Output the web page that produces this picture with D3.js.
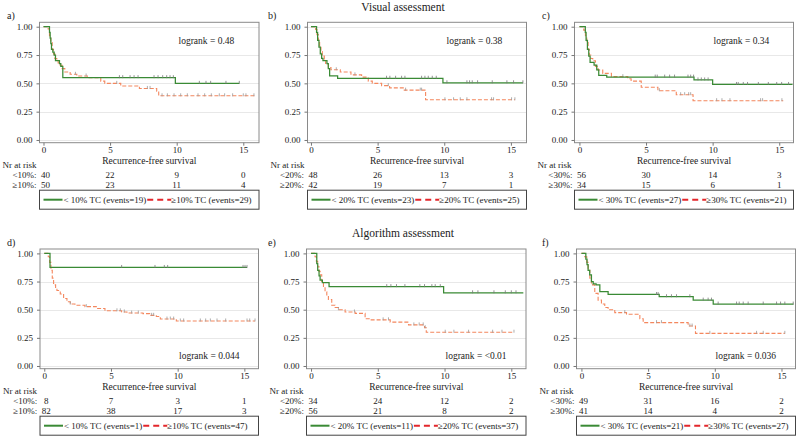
<!DOCTYPE html>
<html><head><meta charset="utf-8">
<script src="https://cdn.jsdelivr.net/npm/d3@7"></script>
<style>body{margin:0;background:#fff}svg{display:block}text{font-family:"Liberation Serif","Times New Roman",serif;fill:#222}</style>
</head><body><svg id="c" width="800" height="443"></svg>
<script>
// ---------- data ----------
const panelLabels = ["a)","b)","c)","d)","e)","f)"];
const rowTitles = ["Visual assessment","Algorithm assessment"];
const cutoffs = [10,20,30,10,20,30];
const logranks = ["0.48","0.38","0.34","0.044","<0.01","0.036"];
const eventsLow = [19,23,27,1,11,21];
const eventsHigh = [29,25,21,47,37,27];
const xTicks = [0,5,10,15];
const yTicks = [0,0.25,0.5,0.75,1];
const yTickLabels = ["0.00","0.25","0.50","0.75","1.00"];
const riskLow = [[40,22,9,0],[48,26,13,3],[56,30,14,3],[8,7,3,1],[34,24,12,2],[49,31,16,2]];
const riskHigh = [[50,23,11,4],[42,19,7,1],[34,15,6,1],[82,38,17,3],[56,21,8,2],[41,14,4,2]];

// panel a
const aLoT=[0.45,0.5,0.55,0.6,0.7,0.8,0.9,1.2,1.3,1.45,9.9];
const aLoS=[0.95,0.9,0.85,0.8,0.775,0.75,0.70,0.675,0.65,0.55,0.50];
const aLoEnd=14.7;
const aLoC=[5.7,5.95,6.5,6.8,7.1,8.3,8.6,8.95,9.25,9.5,9.75,11.7,12.2,12.55,13.7,14.7];
const aHiT=[0.35,0.45,0.55,0.65,0.75,0.85,1.0,1.1,1.25,1.4,1.6,2.0,2.5,3.3,4.3,4.6,5.8,7.2,8.5,8.65];
const aHiS=[0.98,0.92,0.86,0.80,0.76,0.72,0.70,0.68,0.66,0.63,0.60,0.58,0.565,0.55,0.52,0.50,0.477,0.455,0.43,0.39];
const aHiEnd=15.9;
const aHiC=[2.4,3.2,5.5,7.8,8.0,8.9,9.3,9.8,10.3,10.8,11.6,12.1,12.6,13.2,13.6,14.2,15.0,15.2,15.8];
// panel b
const bLoT=[0.42,0.5,0.6,0.7,0.8,0.9,1.2,1.3,1.4,2.0,9.9];
const bLoS=[0.95,0.88,0.82,0.76,0.72,0.70,0.675,0.63,0.565,0.545,0.505];
const bLoEnd=15.9;
const bLoC=[5.67,5.92,6.35,6.8,7.05,8.3,8.55,8.8,9.1,9.4,10.2,11.7,11.9,12.1,12.5,13.6,14.7,15.2,15.9];
const bHiT=[0.35,0.45,0.55,0.65,0.75,0.85,1.0,1.1,1.3,1.5,2.2,3.0,3.8,4.3,4.6,5.3,5.9,7.0,8.6];
const bHiS=[0.975,0.93,0.88,0.83,0.78,0.74,0.70,0.67,0.64,0.62,0.60,0.575,0.555,0.52,0.50,0.48,0.46,0.44,0.355];
const bHiEnd=15.3;
const bHiC=[1.9,3.3,5.8,7.1,8.2,8.3,10.05,10.7,11.2,11.7,13.55,13.7,15.05,15.3];
// panel c
const cLoT=[0.44,0.5,0.6,0.7,0.8,1.1,1.3,1.45,2.05,8.6,10.0];
const cLoS=[0.95,0.88,0.8,0.74,0.685,0.66,0.62,0.57,0.555,0.53,0.49];
const cLoEnd=16.0;
const cLoC=[5.69,5.84,6.4,6.77,7.14,8.15,8.35,8.57,8.9,9.15,9.4,9.66,11.79,11.92,12.3,12.62,13.43,14.18,14.81,15.18,15.7];
const cHiT=[0.32,0.45,0.55,0.65,0.74,0.85,1.0,1.2,1.4,1.75,2.4,3.63,3.88,4.64,5.89,7.27,8.53];
const cHiS=[0.97,0.92,0.86,0.80,0.75,0.72,0.70,0.65,0.618,0.588,0.559,0.54,0.52,0.465,0.435,0.40,0.347];
const cHiEnd=15.3;
const cHiC=[3.26,6.0,7.6,7.9,8.2,8.35,10.3,10.7,11.3,13.6,13.75,15.2];
// panel d
const dLoT=[0.43];
const dLoS=[0.875];
const dLoEnd=15.2;
const dLoC=[5.8,8.3,9.0,9.25,14.9,15.05,15.2];
const dHiT=[0.3,0.4,0.5,0.6,0.7,0.85,0.95,1.2,1.45,1.7,1.95,2.3,3.05,3.9,4.55,5.8,6.2,7.4,7.9,8.4,8.7,9.9];
const dHiS=[0.97,0.92,0.85,0.78,0.72,0.69,0.67,0.64,0.60,0.57,0.55,0.54,0.527,0.51,0.49,0.48,0.47,0.465,0.45,0.44,0.417,0.40];
const dHiEnd=15.8;
const dHiC=[1.95,3.15,5.45,5.7,6.0,6.55,7.05,8.05,8.2,9.2,9.45,9.7,10.2,10.45,11.7,12.1,12.45,12.95,13.6,15.2,15.4,15.8];
// panel e
const eLoT=[0.43,0.5,0.6,0.68,0.85,1.35,9.93];
const eLoS=[0.91,0.85,0.80,0.763,0.74,0.705,0.65];
const eLoEnd=15.9;
const eLoC=[5.67,5.98,6.4,7.03,8.15,8.5,9.05,9.3,9.68,12.1,12.5,13.7,14.55,15.0,15.35];
const eHiT=[0.3,0.4,0.5,0.6,0.68,0.8,0.93,1.05,1.18,1.3,1.55,1.8,2.05,2.55,3.3,4.05,4.43,5.93,7.3,8.5,8.63];
const eHiS=[0.97,0.93,0.88,0.84,0.81,0.75,0.70,0.66,0.63,0.59,0.54,0.52,0.50,0.48,0.467,0.42,0.41,0.39,0.365,0.34,0.30];
const eHiEnd=15.2;
const eHiC=[2.05,3.25,5.4,5.8,7.7,8.1,8.4,8.55,10.05,10.7,11.8,13.6,14.3,15.2];
// panel f
const fLoT=[0.33,0.42,0.5,0.62,0.75,0.88,1.1,1.38,2.0,5.83,8.38,9.88];
const fLoS=[0.95,0.9,0.85,0.81,0.75,0.73,0.72,0.66,0.635,0.615,0.585,0.55];
const fLoEnd=15.9;
const fLoC=[5.63,5.75,6.38,6.75,7.13,8.13,9.13,9.5,9.75,10.25,11.63,11.83,12.13,12.5,13.63,14.63,14.93,15.25,15.88];
const fHiT=[0.25,0.4,0.5,0.63,0.75,1.0,1.25,1.5,1.75,2.0,2.5,3.38,4.38,4.63,8.0,8.55];
const fHiS=[0.97,0.92,0.85,0.78,0.72,0.645,0.585,0.55,0.52,0.50,0.474,0.46,0.42,0.385,0.355,0.29];
const fHiEnd=15.25;
const fHiC=[3.25,5.63,6.0,8.13,8.3,9.63,13.13,13.63,15.25];

const lowSeries=[[aLoT,aLoS,aLoEnd,aLoC],[bLoT,bLoS,bLoEnd,bLoC],[cLoT,cLoS,cLoEnd,cLoC],[dLoT,dLoS,dLoEnd,dLoC],[eLoT,eLoS,eLoEnd,eLoC],[fLoT,fLoS,fLoEnd,fLoC]];
const highSeries=[[aHiT,aHiS,aHiEnd,aHiC],[bHiT,bHiS,bHiEnd,bHiC],[cHiT,cHiS,cHiEnd,cHiC],[dHiT,dHiS,dHiEnd,dHiC],[eHiT,eHiS,eHiEnd,eHiC],[fHiT,fHiS,fHiEnd,fHiC]];

// ---------- layout ----------
const frames=[
 {l:39.5,r:259,t:22.3,b:142.7,dom:[-0.3,16.18],lab:7,lrTop:true},
 {l:307.5,r:526.5,t:22.3,b:142.7,dom:[-0.26,16.17],lab:268,lrTop:true},
 {l:574.5,r:793.5,t:22.3,b:142.7,dom:[-0.37,16.07],lab:542,lrTop:true},
 {l:40,r:258.5,t:249,b:368.7,dom:[-0.32,16.06],lab:7,lrTop:false},
 {l:306.5,r:526,t:249,b:368.7,dom:[-0.34,16.1],lab:268,lrTop:false},
 {l:576.5,r:795.5,t:249,b:368.7,dom:[-0.37,16.05],lab:542,lrTop:false}
];
const GREEN="#3a8a35", ORANGE="#f4875e", RED="#e3262b";
const svg=d3.select("#c");

svg.append("text").attr("x",403).attr("y",7).attr("dy","0.35em").attr("text-anchor","middle").style("font-size","11.5px").text(rowTitles[0]);
svg.append("text").attr("x",403).attr("y",233).attr("dy","0.35em").attr("text-anchor","middle").style("font-size","11.5px").text(rowTitles[1]);

function survAt(T,S,t){let s=1;for(let i=0;i<T.length;i++){if(T[i]<=t)s=S[i];}return s;}

frames.forEach((f,i)=>{
  const g=svg.append("g");
  const x=d3.scaleLinear().domain(f.dom).range([f.l,f.r]);
  const y=d3.scaleLinear().domain([-0.024,1.039]).range([f.b,f.t]);
  g.append("text").attr("x",f.lab).attr("y",f.t-7).attr("dy","0.35em").style("font-size","10px").text(panelLabels[i]);
  g.selectAll(".gl").data(yTicks).join("line").attr("x1",f.l).attr("x2",f.r)
    .attr("y1",d=>Math.round(y(d))+0.5).attr("y2",d=>Math.round(y(d))+0.5).attr("stroke","#e2e2e2").attr("stroke-width",0.8);
  g.append("rect").attr("x",f.l).attr("y",f.t).attr("width",f.r-f.l).attr("height",f.b-f.t)
    .attr("fill","none").attr("stroke","#8a8a8a").attr("stroke-width",1);
  const ya=g.append("g").attr("transform",`translate(${f.l},0)`)
    .call(d3.axisLeft(y).tickValues(yTicks).tickSize(3).tickPadding(4).tickFormat((d,k)=>yTickLabels[k]));
  ya.select(".domain").remove();
  ya.selectAll("line").attr("stroke","#777");
  ya.selectAll("text").style("font-size","9px").style("font-family","Liberation Serif").attr("fill","#222");
  const xa=g.append("g").attr("transform",`translate(0,${f.b})`)
    .call(d3.axisBottom(x).tickValues(xTicks).tickSize(3).tickPadding(1).tickFormat(d3.format("d")));
  xa.select(".domain").remove();
  xa.selectAll("line").attr("stroke","#777");
  xa.selectAll("text").style("font-size","9px").style("font-family","Liberation Serif").attr("fill","#222");
  g.append("text").attr("x",(f.l+f.r)/2).attr("y",f.b+18).attr("dy","0.35em").attr("text-anchor","middle").style("font-size","9.5px").text("Recurrence-free survival");

  const line=d3.line().x(d=>x(d[0])).y(d=>y(d[1])).curve(d3.curveStepAfter);
  const draw=(ser,color,dash,w)=>{
    const [T,S,end,C]=ser;
    const pts=[[0,1]].concat(T.map((t,k)=>[t,S[k]]));
    pts.push([end,S[S.length-1]]);
    g.append("path").attr("d",line(pts)).attr("fill","none").attr("stroke",color).attr("stroke-width",w)
      .attr("stroke-dasharray",dash||null);
    g.selectAll(null).data(C).join("line").attr("x1",d=>x(d)).attr("x2",d=>x(d))
      .attr("y1",d=>y(survAt(T,S,d))-2.5).attr("y2",d=>y(survAt(T,S,d))+0.5).attr("stroke",color==ORANGE?"#999":"#777").attr("stroke-width",0.8);
  };
  draw(highSeries[i],ORANGE,"4,2",1.1);
  draw(lowSeries[i],GREEN,null,1.25);

  g.append("text").attr("x",f.l+139).attr("y",f.lrTop?41:356).attr("dy","0.35em").style("font-size","9.5px").text("logrank = "+logranks[i]);

  const c=cutoffs[i];
  g.append("text").attr("x",f.l-37).attr("y",f.b+22.5).attr("dy","0.35em").style("font-size","9px").text("Nr at risk");
  [["<"+c+"%:",riskLow[i],32.5],["\u2265"+c+"%:",riskHigh[i],42.5]].forEach(([lab,vals,off])=>{
    g.append("text").attr("x",x(0)-7).attr("y",f.b+off).attr("dy","0.35em").attr("text-anchor","end").style("font-size","9px").text(lab);
    g.selectAll(null).data(vals).join("text").attr("x",(d,k)=>x(xTicks[k])+(k==0?2:0)).attr("y",f.b+off).attr("dy","0.35em")
      .attr("text-anchor","middle").style("font-size","9px").text(d=>d);
  });
  const lt=f.b+47.5, lh=19;
  g.append("rect").attr("x",f.l).attr("y",lt).attr("width",f.r-f.l).attr("height",lh).attr("fill","#fff").attr("stroke","#444").attr("stroke-width",1);
  const ly=lt+lh/2;
  g.append("line").attr("x1",f.l+4).attr("x2",f.l+23).attr("y1",ly).attr("y2",ly).attr("stroke",GREEN).attr("stroke-width",2);
  const t1=g.append("text").attr("x",f.l+24).attr("y",ly).attr("dy","0.35em").style("font-size","9px").text("< "+c+"% TC (events="+eventsLow[i]+")");
  const w1=t1.node().getComputedTextLength();
  const k2=f.l+24+w1+1;
  g.append("line").attr("x1",k2).attr("x2",k2+24).attr("y1",ly).attr("y2",ly).attr("stroke",RED).attr("stroke-width",2).attr("stroke-dasharray","6,4");
  g.append("text").attr("x",k2+24).attr("y",ly).attr("dy","0.35em").style("font-size","9px").text("\u2265"+c+"% TC (events="+eventsHigh[i]+")");
});
</script></body></html>
